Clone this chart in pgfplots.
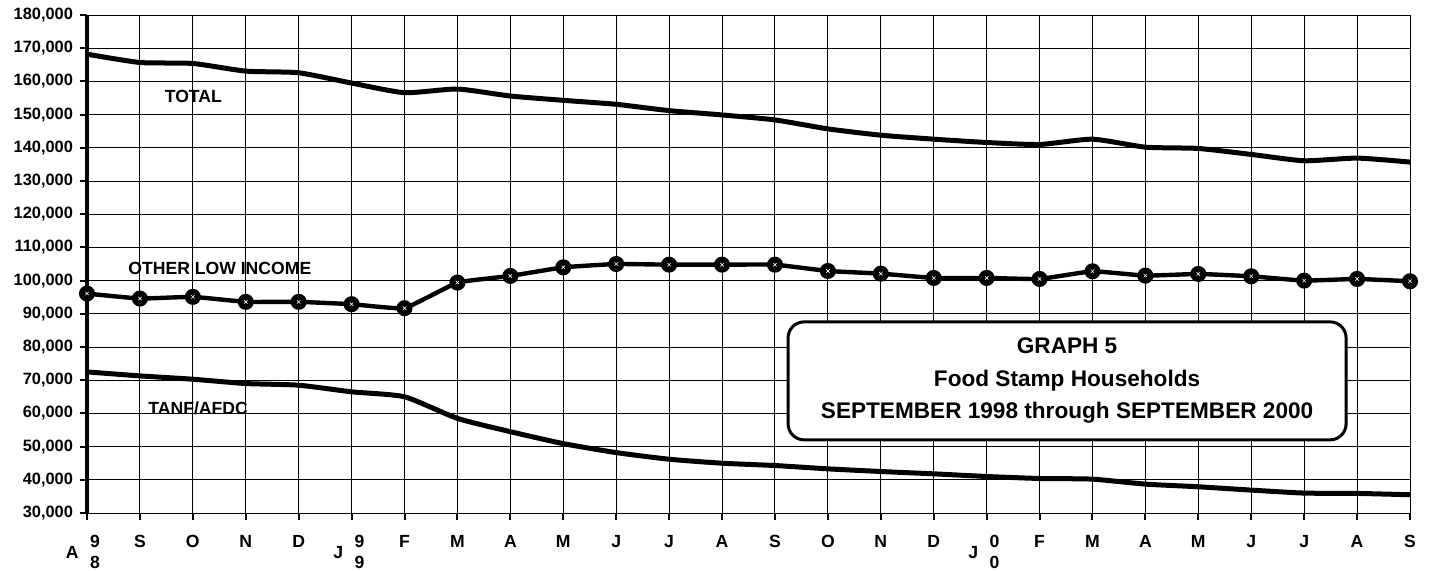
\documentclass[border=0pt]{standalone}
\usepackage{fontspec}
\setmainfont{Liberation Sans}
\usepackage{pgfplots}
\pgfplotsset{compat=1.18}
\usepackage{pgfplotstable}

\pgfplotstableread{
i total other tanf
0 168200 96100 72500
1 165700 94600 71300
2 165400 95100 70300
3 163100 93600 69000
4 162600 93600 68500
5 159500 92900 66500
6 156600 91700 65000
7 157700 99400 58500
8 155600 101400 54500
9 154300 104000 50900
10 153100 105000 48200
11 151200 104800 46200
12 149900 104800 45000
13 148400 104800 44300
14 145700 102900 43300
15 143800 102100 42500
16 142600 100800 41800
17 141600 100800 41000
18 141000 100500 40400
19 142600 102800 40200
20 140200 101500 38700
21 139800 102000 37900
22 138000 101300 36900
23 136100 100000 36000
24 136900 100500 35900
25 135700 99800 35500
}\data

\protected\def\yr#1#2#3{\llap{#1\hspace{4.2pt}}\rlap{\hspace{1.5pt}\makebox[0pt][l]{\raisebox{5.4pt}{#2}}\raisebox{-5.2pt}{#3}}}

\begin{document}
\begin{tikzpicture}
\path[use as bounding box] (-43.5pt,-28.5pt) rectangle (671.5pt,256.5pt);
\begin{axis}[
  at={(0,0)}, anchor=south west,
  scale only axis, width=661.5pt, height=249pt,
  clip=false,
  xmin=0, xmax=25, ymin=30000, ymax=180000,
  xtick={0,...,25},
  xticklabels={\yr{A}{9}{8},S,O,N,D,\yr{J}{9}{9},F,M,A,M,J,J,A,S,O,N,D,\yr{J}{0}{0},F,M,A,M,J,J,A,S},
  ytick={30000,40000,50000,60000,70000,80000,90000,100000,110000,120000,130000,140000,150000,160000,170000,180000},
  yticklabels={{30,000},{40,000},{50,000},{60,000},{70,000},{80,000},{90,000},{100,000},{110,000},{120,000},{130,000},{140,000},{150,000},{160,000},{170,000},{180,000}},
  grid=major,
  major grid style={black, line width=0.5pt},
  axis line style={black, line width=0.5pt},
  tick align=outside, tick pos=left,
  major tick length=3.5pt,
  tick style={black, line width=1pt},
  yticklabel style={font=\fontsize{8.2}{8.2}\selectfont\bfseries},
  xticklabel style={font=\fontsize{8.8}{11}\selectfont\bfseries, yshift=-4pt},
]
\addplot[black, line width=2.5pt, smooth, tension=0.35] table[x=i,y=total]{\data};
\addplot[black, line width=2.2pt, smooth, tension=0.2, mark=*, mark size=2.9pt] table[x=i,y=other]{\data};
\addplot[white, only marks, mark=x, mark size=1.2pt, mark options={line width=0.3pt}] table[x=i,y=other]{\data};
\addplot[black, line width=2.5pt, smooth, tension=0.35] table[x=i,y=tanf]{\data};
\draw[black, line width=2pt] (rel axis cs:0,0) -- (rel axis cs:0,1);
\node[font=\fontsize{8.8}{8.8}\selectfont\bfseries] at (axis cs:2.01,155600) {TOTAL};
\node[font=\fontsize{8.8}{8.8}\selectfont\bfseries] at (axis cs:2.51,103800) {OTHER LOW INCOME};
\node[font=\fontsize{8.8}{8.8}\selectfont\bfseries] at (axis cs:2.1,61600) {TANF/AFDC};
\node[draw=black, line width=1.5pt, rounded corners=8pt, fill=white, minimum width=279pt, minimum height=59pt, align=center, font=\fontsize{11.3}{16.2}\selectfont\bfseries] at (axis cs:18.52,69800) {GRAPH 5\\Food Stamp Households\\SEPTEMBER 1998 through SEPTEMBER 2000};
\end{axis}
\end{tikzpicture}
\end{document}
